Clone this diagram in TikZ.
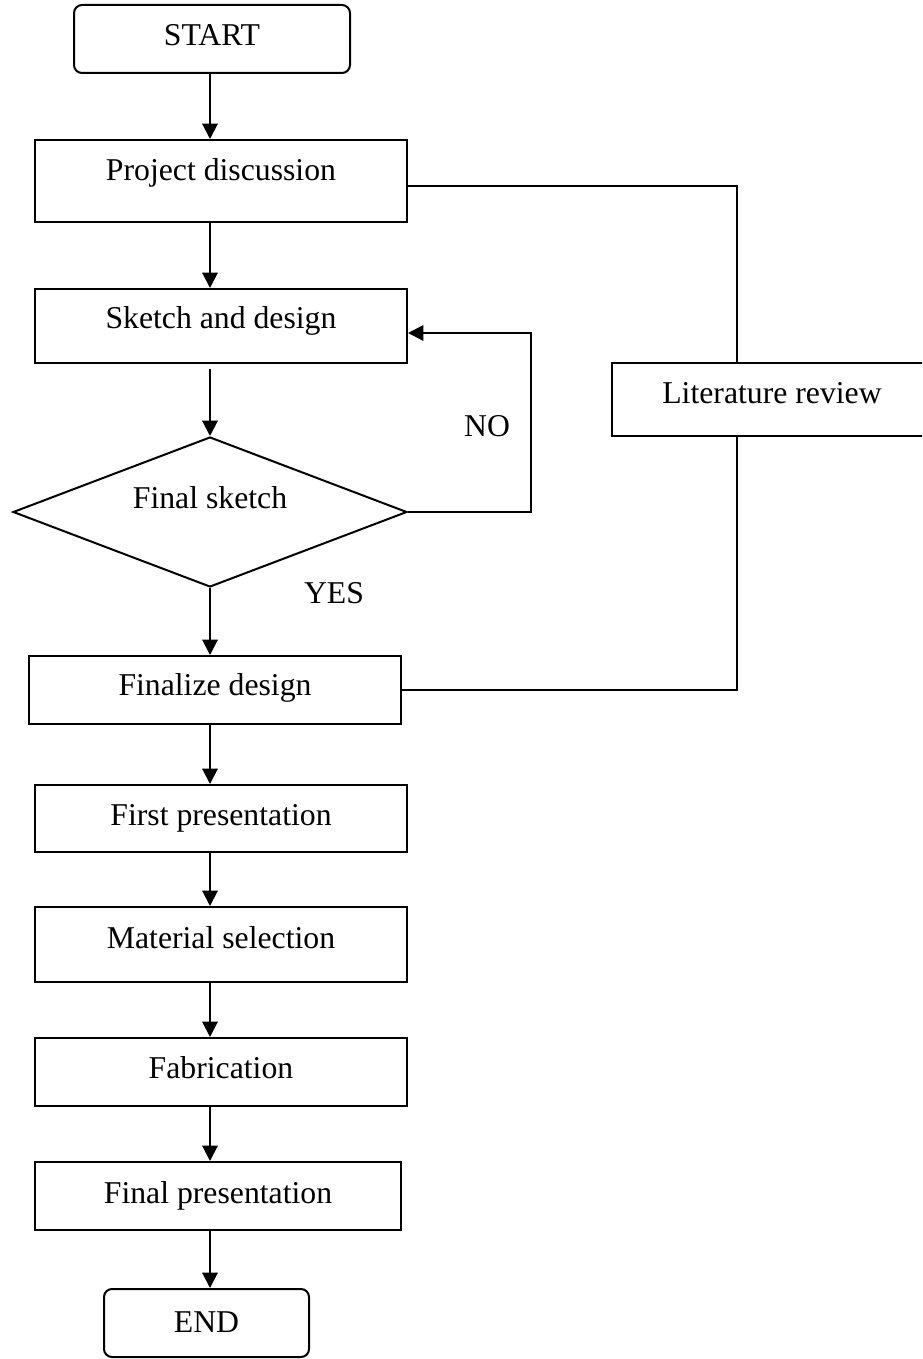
\documentclass[tikz,border=0pt]{standalone}
\usepackage{fontspec}
\setmainfont{Liberation Serif}
\usetikzlibrary{shapes.geometric,arrows.meta}

\begin{document}
\begin{tikzpicture}[x=0.75pt,y=-0.75pt, line width=1.5pt,
  font=\fontsize{23.8pt}{28pt}\selectfont,
  box/.style={draw, rectangle, inner sep=0pt, text height=16.5pt, text depth=5.25pt,
    minimum width=279pt},
  term/.style={box, rounded corners=6pt, minimum height=51pt},
  decide/.style={draw, diamond, aspect=2.6, inner sep=0pt, text height=16.5pt,
    minimum width=295.5pt, minimum height=112.5pt},
  arr/.style={-{Triangle[length=11.5pt,width=11.5pt]}}]

  % Frame
  \clip (0,0) rectangle (922,1359);

  % Main column
  \node[term, minimum width=207pt, text depth=6.75pt] (start) at (212,39) {START};
  \node[box, minimum height=61.5pt, text depth=17.25pt] (proj) at (221,181) {Project discussion};
  \node[box, minimum height=55.5pt, text depth=12.75pt] (sketch) at (221,326) {Sketch and design};
  \node[decide, text depth=21.75pt] (dia) at (210,512) {Final sketch};
  \node[box, minimum height=51pt, text depth=8.25pt] (final) at (215,690) {Finalize design};
  \node[box, minimum height=50.25pt, text depth=6pt] (first) at (221,818.5) {First presentation};
  \node[box, minimum height=56.25pt, text depth=10.5pt] (mat) at (221,944.5) {Material selection};
  \node[box, minimum height=51pt, text depth=6.75pt] (fab) at (221,1072) {Fabrication};
  \node[box, minimum height=51pt, minimum width=274.5pt] (pres) at (218,1196) {Final presentation};
  \node[term, minimum width=153.75pt, text depth=2.25pt] (end) at (206.5,1323) {END};

  % Side branch
  \node[box, minimum height=54.75pt, minimum width=240pt, text depth=11.25pt] (lit) at (772,399.5) {Literature review};

  % Labels
  \node (no) at (487,426) {NO};
  \node (yes) at (334,593) {YES};

  % Bends
  \coordinate (loop) at (531,420);
  \coordinate (side) at (737,420);

  % Arrows down
  \draw[arr] (start.south -| dia.north) -- (proj.north -| dia.north);
  \draw[arr] (proj.south -| dia.north) -- (sketch.north -| dia.north);
  \draw[arr, shorten <=3.75pt] (sketch.south -| dia.north) -- (dia.north);
  \draw[arr] (dia.south) -- (final.north -| dia.south);
  \draw[arr] (final.south -| dia.south) -- (first.north -| dia.south);
  \draw[arr] (first.south -| dia.south) -- (mat.north -| dia.south);
  \draw[arr] (mat.south -| dia.south) -- (fab.north -| dia.south);
  \draw[arr] (fab.south -| dia.south) -- (pres.north -| dia.south);
  \draw[arr] (pres.south -| dia.south) -- (end.north -| dia.south);

  % NO loop
  \draw[arr] (dia.east) -| (loop) |- ([yshift=-5.25pt]sketch.east);

  % Literature review links
  \draw ([yshift=-3.75pt]proj.east) -| (lit.north -| side);
  \draw (final.east) -| (lit.south -| side);

\end{tikzpicture}
\end{document}
